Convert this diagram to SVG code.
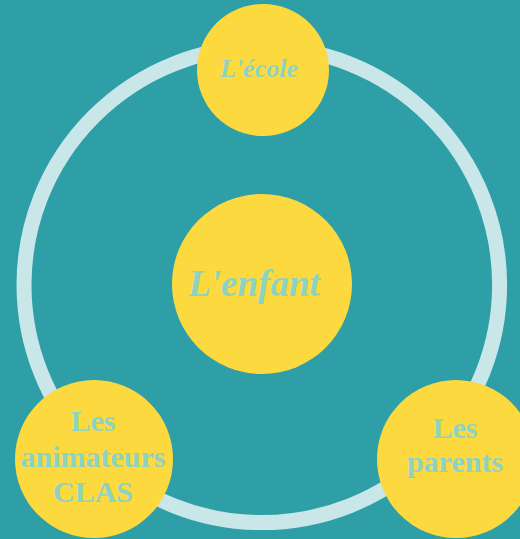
<svg xmlns="http://www.w3.org/2000/svg" width="520" height="539" viewBox="0 0 520 539">
<style>
.node{fill:#FCDA3F}
.lbl{fill:#8DD3C4;font-family:"Liberation Serif",serif;font-weight:bold;text-anchor:middle}
.it{font-style:italic}
</style>
<rect width="520" height="539" fill="#2E9FA7"/>
<g id="connectors">
<circle cx="261.8" cy="284.8" r="237.8" fill="none" stroke="#C9E6E9" stroke-width="15"/>
</g>
<g id="ecole">
<circle class="node" cx="263" cy="70" r="66"/>
<text class="lbl it" x="259" y="77" font-size="26">L'école</text>
</g>
<g id="enfant">
<circle class="node" cx="262" cy="284" r="90"/>
<text class="lbl it" x="254" y="296" font-size="37">L'enfant</text>
</g>
<g id="animateurs">
<circle class="node" cx="94" cy="459" r="79"/>
<text class="lbl" x="93" y="431" font-size="30">Les</text>
<text class="lbl" x="93" y="466.5" font-size="30">animateurs</text>
<text class="lbl" x="93" y="501.5" font-size="30">CLAS</text>
</g>
<g id="parents">
<circle class="node" cx="456" cy="459" r="79"/>
<text class="lbl" x="455" y="438" font-size="30">Les</text>
<text class="lbl" x="455" y="472" font-size="30">parents</text>
</g>
</svg>
